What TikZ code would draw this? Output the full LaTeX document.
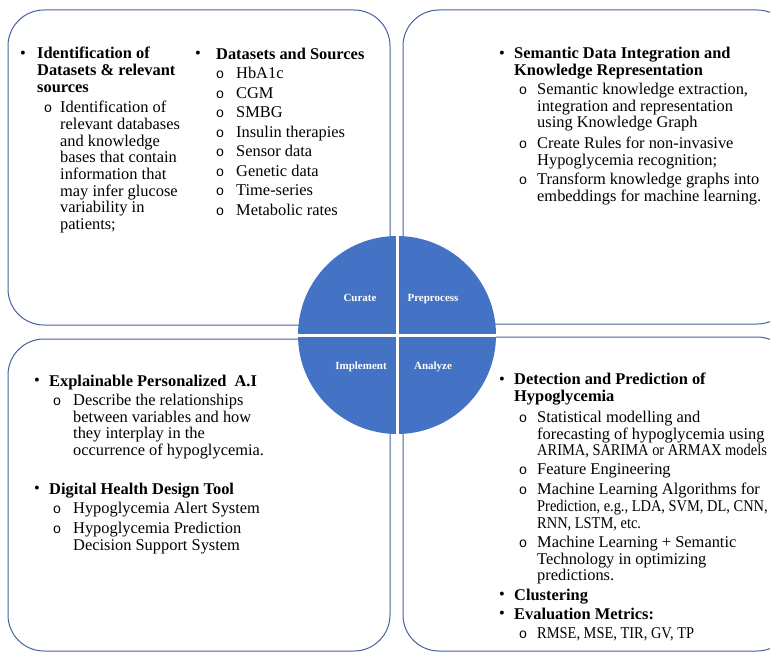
\documentclass[tikz,border=0pt]{standalone}
\usepackage{fontspec}
\setmainfont{Liberation Serif}
\newfontfamily\ringfont{Liberation Mono}
\definecolor{edgeblue}{RGB}{70,98,156}
\definecolor{pieblue}{RGB}{68,114,196}
\newcommand{\narrow}[1]{\scalebox{0.88}[1]{#1}}
\tikzset{
  panel/.style={draw=edgeblue, line width=1pt, rounded corners=36pt},
  txt/.style={anchor=north west, align=left, inner sep=0pt,
    font=\fontsize{16.4}{16.7}\selectfont, execute at begin node=\strut},
  hd/.style={txt, font=\fontsize{16.4}{16.9}\selectfont\bfseries},
  dot/.style={inner sep=0pt, font=\fontsize{16.4}{16.7}\selectfont},
  ring/.style={inner sep=0pt, font=\fontsize{14}{15}\ringfont},
  quad/.style={text=white, inner sep=0pt, font=\fontsize{11}{12}\selectfont\bfseries}
}
\begin{document}
\begin{tikzpicture}[x=1pt, y=-1pt]
    \useasboundingbox (0,0) rectangle (770,652);
    \clip (0,0) rectangle (770,652);
    \foreach \a/\b/\c/\d in {8/10/390/325, 403/10/793/324, 8/339/390/651, 403/337/793/651}
    \draw[panel] (\a,\b) rectangle (\c,\d);
    \begin{scope}[yshift=-3pt]
    % curate
    \node[dot] (b1) at (23,52) {•};
    \node[hd] (h1) at (37,44) {Identification of\\Datasets \& relevant\\sources};
    \node[ring] (r1) at (48,106) {o};
    \node[txt] (t1) at (60,98) {Identification of\\relevant databases\\and knowledge\\bases that contain\\information that\\may infer glucose\\variability in\\patients;};
    \node[dot] (b2) at (198,52) {•};
    \node[hd] (h2) at (216,44) {Datasets and Sources};
    \foreach \t [count=\i from 0] in {HbA1c, CGM, SMBG, Insulin therapies, Sensor data, Genetic data, Time-series, Metabolic rates}
    {
        \node[ring] (dr\i) at (220,72+19.5*\i) {o};
        \node[txt] (ds\i) at (236,64+19.5*\i) {\t};
    }
    % preprocess
    \node[dot] (b3) at (502,52) {•};
    \node[hd] (h3) at (514,44) {Semantic Data Integration and\\Knowledge Representation};
    \foreach \y/\t in {88/{Semantic knowledge extraction,\\integration and representation\\using Knowledge Graph},
        142/{Create Rules for non-invasive\\Hypoglycemia recognition;},
        178/{Transform knowledge graphs into\\embeddings for machine learning.}}
    {
        \node[ring] (pr\y) at (523,\y) {o};
        \node[txt] (pt\y) at (537,\y-8) {\t};
    }
    % implement
    \node[dot] (b4) at (37,379) {•};
    \node[hd] (h4) at (49,371) {Explainable Personalized\ \ A.I};
    \node[ring] (r4) at (57,399) {o};
    \node[txt] (t4) at (73,391) {Describe the relationships\\between variables and how\\they interplay in the\\occurrence of hypoglycemia.};
    \node[dot] (b5) at (37,487) {•};
    \node[hd] (h5) at (49,479) {Digital Health Design Tool};
    \node[ring] (r5) at (57,507) {o};
    \node[txt] (t5) at (73,499) {Hypoglycemia Alert System};
    \node[ring] (r6) at (57,527) {o};
    \node[txt] (t6) at (73,519) {Hypoglycemia Prediction\\Decision Support System};
    % analyze
    \node[dot] (b6) at (502,378) {•};
    \node[hd] (h6) at (514,370) {Detection and Prediction of\\Hypoglycemia};
    \foreach \y/\t in {416/{Statistical modelling and\\forecasting of hypoglycemia using\\\narrow{ARIMA, SARIMA or ARMAX models}},
        468/{Feature Engineering},
        488/{Machine Learning Algorithms for\\\narrow{Prediction, e.g., LDA, SVM, DL, CNN,}\\\narrow{RNN, LSTM, etc.}},
        541/{Machine Learning + Semantic\\Technology in optimizing\\predictions.},
        632/{\narrow{RMSE, MSE, TIR, GV, TP}}}
    {
        \node[ring] (ar\y) at (523,\y) {o};
        \node[txt] (at\y) at (537,\y-8) {\t};
    }
    \node[dot] (b7) at (502,593) {•};
    \node[hd] (h7) at (514,585) {Clustering};
    \node[dot] (b8) at (502,612) {•};
    \node[hd] (h8) at (514,604) {Evaluation Metrics:};
    \end{scope}
    % wheel
    \node[circle, fill=pieblue, minimum size=198pt, inner sep=0pt] (hub) at (397,335) {};
    \draw[white, line width=3pt] (hub.north) -- (hub.south);
    \draw[white, line width=3pt] (hub.west) -- (hub.east);
    \node[quad] (q1) at (360,298) {Curate};
    \node[quad] (q2) at (433,299) {Preprocess};
    \node[quad] (q3) at (361,367) {Implement};
    \node[quad] (q4) at (433,367) {Analyze};
\end{tikzpicture}
\end{document}
